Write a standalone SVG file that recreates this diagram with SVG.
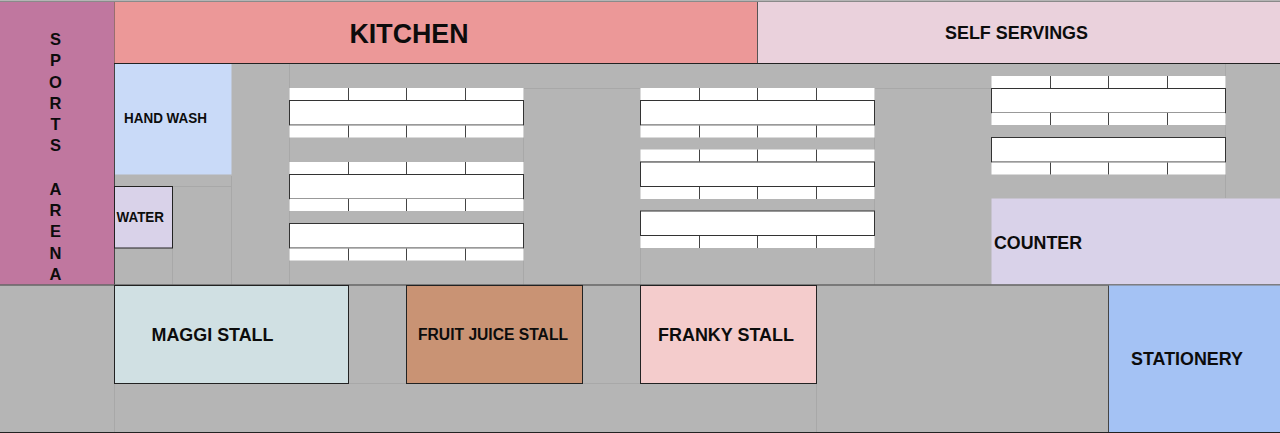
<svg xmlns="http://www.w3.org/2000/svg" width="1280" height="433" viewBox="0 0 1280 433">
<style>
text{font-family:"Liberation Sans",Arial,sans-serif;font-weight:bold;fill:#0c0c0c}
.n{stroke:#222;stroke-width:1}
.seat{fill:#fff;stroke:none}
.tick{stroke:#444;stroke-width:1;fill:none}
.top{fill:#fff;stroke:#333;stroke-width:1}
.g{stroke:#a8a8a8;stroke-width:1;fill:none}
.v{text-anchor:middle;font-size:16.5px}
</style>
<defs>
<g id="seats"><rect class="seat" width="234" height="12"/><path class="tick" d="M59 0V12M117 0V12M176 0V12"/></g>
<rect id="tbl" class="top" width="234" height="24.5"/>
</defs>
<rect width="1280" height="433" fill="#b5b5b5"/>
<g id="connectors"><path class="g" d="M289.5 64V285M231.5 176V285M172.5 186V285M114 186.500H231M523.500 88V285M640.500 248V285M874.500 88V285M1225.500 64V198M816.500 384V433M114.500 384V433M289 88.500H991M349 383.500H407M583 383.500H640"/></g>
<g id="sports-arena"><rect x="0" y="2" width="114.500" height="283" fill="#c0779f"/><path d="M114.500 2V285" stroke="#444"/>
<text class="v" x="55.500" y="45">S</text><text class="v" x="55.500" y="66">P</text><text class="v" x="55.500" y="88">O</text><text class="v" x="55.500" y="109">R</text><text class="v" x="55.500" y="130">T</text><text class="v" x="55.500" y="151">S</text><text class="v" x="55.500" y="195">A</text><text class="v" x="55.500" y="216">R</text><text class="v" x="55.500" y="237">E</text><text class="v" x="55.500" y="259">N</text><text class="v" x="55.500" y="280">A</text></g>
<g id="kitchen"><rect x="114.500" y="2" width="643" height="61.500" fill="#ec9898"/><text x="349.500" y="43" font-size="27" textLength="119" lengthAdjust="spacingAndGlyphs">KITCHEN</text></g>
<g id="self-servings"><rect x="757.500" y="2" width="522.500" height="61.500" fill="#ead1dc"/><text x="945" y="38.500" font-size="17.500" textLength="143" lengthAdjust="spacingAndGlyphs">SELF SERVINGS</text></g>
<path d="M114 63.500H1280" stroke="#222" fill="none"/><path d="M0 1.500H1280" stroke="#8a8a8a" fill="none"/><path d="M757.500 2V63" stroke="#555"/>
<g id="hand-wash"><rect x="115" y="64" width="116.500" height="110.500" fill="#c9daf8"/><text x="124" y="123" font-size="14" textLength="83" lengthAdjust="spacingAndGlyphs">HAND WASH</text></g>
<g id="water"><rect class="n" x="114.500" y="186.500" width="58" height="61.500" fill="#d9d2e9"/><text x="116.500" y="222" font-size="14" textLength="47.500" lengthAdjust="spacingAndGlyphs">WATER</text></g>
<g id="tables-1"><use href="#seats" x="289.500" y="88"/><use href="#tbl" x="289.500" y="100.500"/><use href="#seats" x="289.500" y="125.500"/><use href="#seats" x="289.500" y="162"/><use href="#tbl" x="289.500" y="174.500"/><use href="#seats" x="289.500" y="199"/><use href="#tbl" x="289.500" y="223.500"/><use href="#seats" x="289.500" y="248.500"/></g>
<g id="tables-2"><use href="#seats" x="640.500" y="88"/><use href="#tbl" x="640.500" y="100.500"/><use href="#seats" x="640.500" y="125.500"/><use href="#seats" x="640.500" y="149.500"/><use href="#tbl" x="640.500" y="162"/><use href="#seats" x="640.500" y="187"/><use href="#tbl" x="640.500" y="211"/><use href="#seats" x="640.500" y="236"/></g>
<g id="tables-3"><use href="#seats" x="991.500" y="76"/><use href="#tbl" x="991.500" y="88.500"/><use href="#seats" x="991.500" y="113"/><use href="#tbl" x="991.500" y="137.500"/><use href="#seats" x="991.500" y="162.500"/></g>
<g id="counter"><rect x="991.500" y="198.500" width="288.500" height="86" fill="#d9d2e9"/><text x="994" y="249" font-size="18.500" textLength="88" lengthAdjust="spacingAndGlyphs">COUNTER</text></g>
<path d="M0 285H1280" stroke="#666" stroke-width="1.500" fill="none"/>
<g id="maggi-stall"><rect class="n" x="114.500" y="285.500" width="234" height="98" fill="#d0e0e3"/><text x="151.500" y="341" font-size="18.500" textLength="122" lengthAdjust="spacingAndGlyphs">MAGGI STALL</text></g>
<g id="fruit-juice-stall"><rect class="n" x="406.500" y="285.500" width="176" height="98" fill="#c99374"/><text x="418" y="340" font-size="16" textLength="150" lengthAdjust="spacingAndGlyphs">FRUIT JUICE STALL</text></g>
<g id="franky-stall"><rect class="n" x="640.500" y="285.500" width="176" height="98" fill="#f4cccc"/><text x="658" y="341" font-size="18.500" textLength="136" lengthAdjust="spacingAndGlyphs">FRANKY STALL</text></g>
<g id="stationery"><rect x="1108.500" y="285.500" width="171.500" height="147" fill="#a4c2f4"/><path d="M1108.500 285.500V432.500" stroke="#444"/><text x="1131" y="365" font-size="18.500" textLength="112" lengthAdjust="spacingAndGlyphs">STATIONERY</text></g>
<path d="M0 432.500H1280" stroke="#222" fill="none"/>
</svg>
